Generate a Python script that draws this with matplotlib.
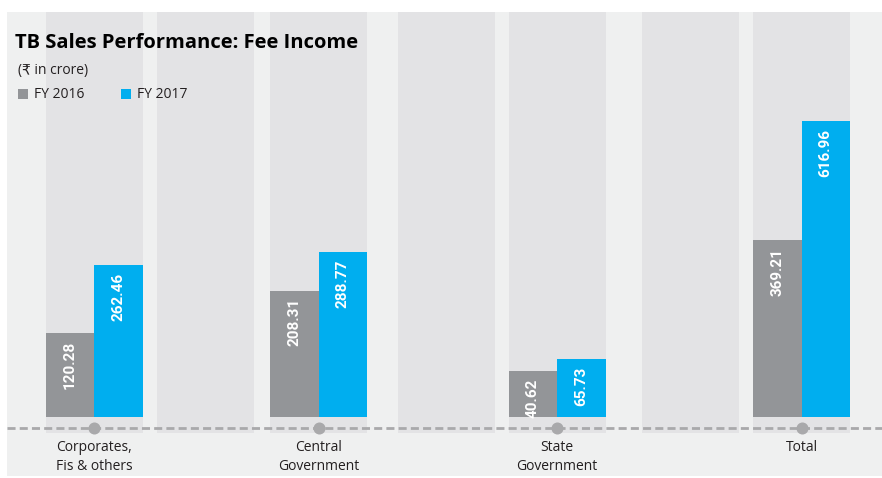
import matplotlib.pyplot as plt
from matplotlib.patches import Rectangle

# data
categories = ['Corporates,\nFis & others', 'Central\nGovernment', 'State\nGovernment', 'Total']
fy2016 = [120.28, 208.31, 40.62, 369.21]
fy2017 = [262.46, 288.77, 65.73, 616.96]
series_labels = ['FY 2016', 'FY 2017']

# layout (pixel x positions of group centres and empty bands)
group_x = [94, 318.5, 557, 801.5]
empty_x = [205.5, 446, 690.5]
band_w = 97
bar_w = 48.5

grey = '#939598'
blue = '#00aeef'
bg = '#eff0f0'
band = '#e3e3e5'
txt = '#231f20'

W, H = 882, 478
s = 0.479          # px per crore
base_px = 417      # bar foot (pixel row from top)
pad = 55.3         # segment groups are drawn on a raised zero, as in the original

fig = plt.figure(figsize=(W / 100, H / 100), dpi=100)

# decoration axes in pixel units (y from top)
ax = fig.add_axes([0, 0, 1, 1])
ax.set_xlim(0, W)
ax.set_ylim(H, 0)
ax.axis('off')

ax.add_patch(Rectangle((7, 12), W - 7, 464, color=bg, zorder=0, lw=0))
for cx in group_x + empty_x:
    ax.add_patch(Rectangle((cx - band_w / 2, 12), band_w, 421, color=band, zorder=1, lw=0))

# bar axes: segments (zero raised by pad) and total (zero on the baseline)
bx = fig.add_axes([0, 0, 1, 1], sharex=ax)
zero_px = base_px - pad * s
bx.set_ylim(-(H - zero_px) / s, zero_px / s)
bx.axis('off')
tx = fig.add_axes([0, 0, 1, 1], sharex=ax)
tx.set_ylim(-(H - base_px) / s, base_px / s)
tx.axis('off')

lab_font = dict(family=['Roboto', 'DejaVu Sans'], fontweight='bold',
                fontsize=11, color='white', rotation=90, ha='center', va='top', zorder=3)

for i, x in enumerate(group_x):
    a, b = fy2016[i], fy2017[i]
    if i < 3:
        axb, lo = bx, -pad
    else:
        axb, lo = tx, 0
    axb.bar(x - bar_w / 2, a - lo, bottom=lo, width=bar_w, color=grey, zorder=2)
    axb.bar(x + bar_w / 2, b - lo, bottom=lo, width=bar_w, color=blue, zorder=2)
    axb.annotate(f'{a:.2f}', (x - bar_w / 2, a), xytext=(0, -5.5), textcoords='offset points', **lab_font)
    axb.annotate(f'{b:.2f}', (x + bar_w / 2, b), xytext=(0, -5.5), textcoords='offset points', **lab_font)

# dashed axis line with dots (on top of everything)
lx = fig.add_axes([0, 0, 1, 1], sharex=ax)
lx.set_ylim(H, 0)
lx.axis('off')
lx.plot([7, W], [428, 428], ls=(0, (2.9, 1.5)), color='#a9a9ab', lw=2, zorder=2)
lx.scatter(group_x, [428] * len(group_x), s=75, color='#a9a9ab', zorder=3, lw=0)

font = ['Open Sans', 'DejaVu Sans']
for x, c in zip(group_x, categories):
    lx.text(x, 440, c, ha='center', va='top', fontsize=10, family=font,
            color=txt, linespacing=1.35)

# title, unit and legend
lx.text(15, 43, 'TB Sales Performance: Fee Income', fontsize=14.5, fontweight='bold',
        family=font, color='black', va='center', ha='left')
lx.text(18, 70, '(₹ in crore)', fontsize=10, family=font, color=txt, va='center')
for px, col, lab in zip([18, 121], [grey, blue], series_labels):
    lx.add_patch(Rectangle((px, 89), 10, 10, color=col, lw=0, zorder=3))
    lx.text(px + 16, 94, lab, fontsize=10, family=font, color=txt, va='center')

fig.savefig('out.png', dpi=100, facecolor='white')
